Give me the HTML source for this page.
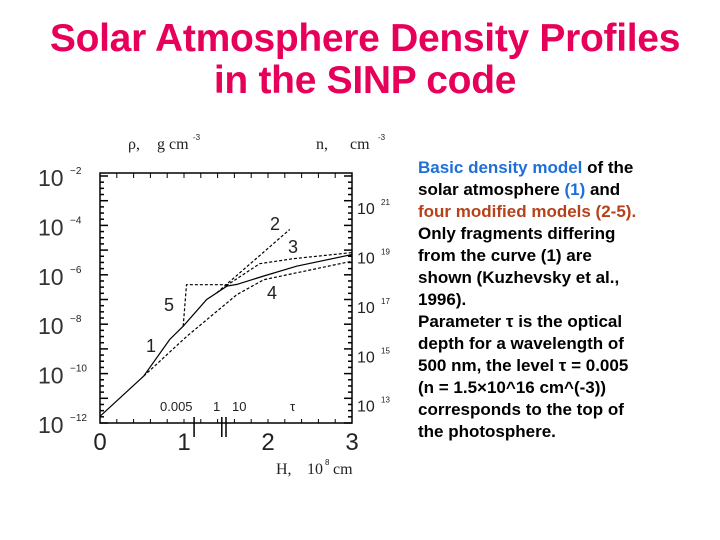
<!DOCTYPE html>
<html><head><meta charset="utf-8"><style>
body{margin:0;width:720px;height:540px;background:#fff;overflow:hidden;position:relative;font-family:"Liberation Sans",sans-serif}
.title{position:absolute;left:0;width:730px;text-align:center;color:#e6005a;font-weight:bold;font-size:39px;line-height:42px;letter-spacing:-0.3px}
.desc{position:absolute;left:418px;top:157px;font-weight:bold;font-size:17px;line-height:22px;color:#000;white-space:nowrap}
.b{color:#1e6fd9}.r{color:#b5421a}
svg{position:absolute;left:0;top:0}
</style></head><body>
<div class="title" style="top:18px">Solar Atmosphere Density Profiles<br>in the SINP code</div>
<div class="desc"><span class="b">Basic density model</span> of the<br>solar atmosphere <span class="b">(1)</span> and<br><span class="r">four modified models (2-5).</span><br>Only fragments differing<br>from the curve (1) are<br>shown (Kuzhevsky et al.,<br>1996).<br>Parameter τ is the optical<br>depth for a wavelength of<br>500 nm, the level τ = 0.005<br>(n = 1.5×10^16 cm^(-3))<br>corresponds to the top of<br>the photosphere.</div>
<svg id="chart" width="720" height="540"></svg>
<script>
const xTicks=[0,1,2,3];
const yTicks=[-2,-4,-6,-8,-10,-12];
const nTicks=[21,19,17,15,13];
const curve1H=[0,0.52,0.83,0.99,1.27,1.51,1.63,1.95,2.34,3];
const curve1L=[-11.73,-10.1,-8.62,-8.08,-7.0,-6.46,-6.39,-6.05,-5.65,-5.18];
const curve2H=[1.39,2.26];
const curve2L=[-6.73,-4.16];
const curve3H=[1.5,1.9,2.3,3];
const curve3L=[-6.45,-5.55,-5.35,-5.1];
const curve4H=[0.52,1.03,1.63,1.95,3];
const curve4L=[-10.1,-8.5,-6.8,-6.2,-5.45];
const curve5H=[0.99,1.03,1.55];
const curve5L=[-8.08,-6.4,-6.4];
const tauLabels=["0.005","1","10"];
const tauH=[1.12,1.45,1.5];
const NS="http://www.w3.org/2000/svg";
const svg=document.getElementById('chart');
const X0=100,X1=352,YT=173,YB=423;
const sx=h=>X0+h*(X1-X0)/3;
const sy=l=>YB-(l+12)*(YB-176)/10;
const nsy=e=>sy(-12)-(e-12.3)*(YB-176)/10;
function el(t,a,txt){const e=document.createElementNS(NS,t);for(const k in a)e.setAttribute(k,a[k]);if(txt!==undefined)e.textContent=txt;svg.appendChild(e);return e;}
let e=el('rect',{x:X0,y:YT,width:X1-X0,height:YB-YT,fill:'none',stroke:'#000','stroke-width':1.5});

for(let l=-12;l<=-2;l+=0.25){const y=sy(l);el('line',{x1:X0,x2:X0+(l%1===0?8:4),y1:y,y2:y,stroke:'#000','stroke-width':1.5});el('line',{x1:X1,x2:X1-(l%1===0?8:4),y1:y,y2:y,stroke:'#000','stroke-width':1.5});}
for(let h=0;h<=3.001;h+=0.2){const x=sx(h);el('line',{x1:x,x2:x,y1:YT,y2:YT+5,stroke:'#000'});el('line',{x1:x,x2:x,y1:YB,y2:YB-4,stroke:'#000'});}
xTicks.forEach(v=>{const t=el('text',{x:sx(v),y:YB+27,'font-size':24,'text-anchor':'middle',fill:'#222','font-family':'Liberation Sans'},v);});
yTicks.forEach(v=>{const t=el('text',{x:38,y:sy(v)+10,'font-size':23,fill:'#333','font-family':'Liberation Sans'},'10');
el('text',{x:70,y:sy(v)-2,'font-size':10,fill:'#222','font-family':'Liberation Sans'},'\u2212'+(-v));});
nTicks.forEach(v=>{const t=el('text',{x:357,y:nsy(v)+6,'font-size':16,fill:'#222','font-family':'Liberation Sans'},'10');
el('text',{x:381,y:nsy(v)-3,'font-size':8,fill:'#222'},v);});
function path(H,L,dash,name){const d=H.map((h,i)=>(i?'L':'M')+sx(h).toFixed(1)+','+sy(L[i]).toFixed(1)).join(' ');const p=el('path',{d:d,fill:'none',stroke:'#000','stroke-width':1.2,'stroke-dasharray':dash});}
path(curve1H,curve1L,'none','curve-1');
path(curve2H,curve2L,'3,2','curve-2');
path(curve3H,curve3L,'3,2','curve-3');
path(curve4H,curve4L,'3,2','curve-4');
path(curve5H,curve5L,'3,2','curve-5');
[['1',146,352],['2',270,230],['3',288,253],['4',267,299],['5',164,311]].forEach(a=>{const t=el('text',{x:a[1],y:a[2],'font-size':18,fill:'#222'},a[0]);});
tauH.forEach(h=>el('line',{x1:sx(h),x2:sx(h),y1:YB-6,y2:YB+14,stroke:'#000','stroke-width':1.5}));
[[160,'0.005'],[213,'1'],[232,'10'],[290,'τ']].forEach(a=>el('text',{x:a[0],y:411,'font-size':13,fill:'#222'},a[1]));
const ser={'font-size':16,'font-family':'Liberation Serif',fill:'#222'};
function st(x,y,t,name){const o=Object.assign({x:x,y:y},ser);const e=el('text',o,t);if(name){}return e;}
st(128,149,'ρ,','left-axis-title');st(157,149,'g cm');
el('text',{x:193,y:140,'font-size':8,fill:'#222'},'-3');
st(316,149,'n,','right-axis-title');st(350,149,'cm');
el('text',{x:378,y:140,'font-size':8,fill:'#222'},'-3');
st(276,474,'H,','x-axis-title');st(307,474,'10');
el('text',{x:325,y:465,'font-size':8,fill:'#222'},'8');
st(333,474,'cm');
</script>
</body></html>
